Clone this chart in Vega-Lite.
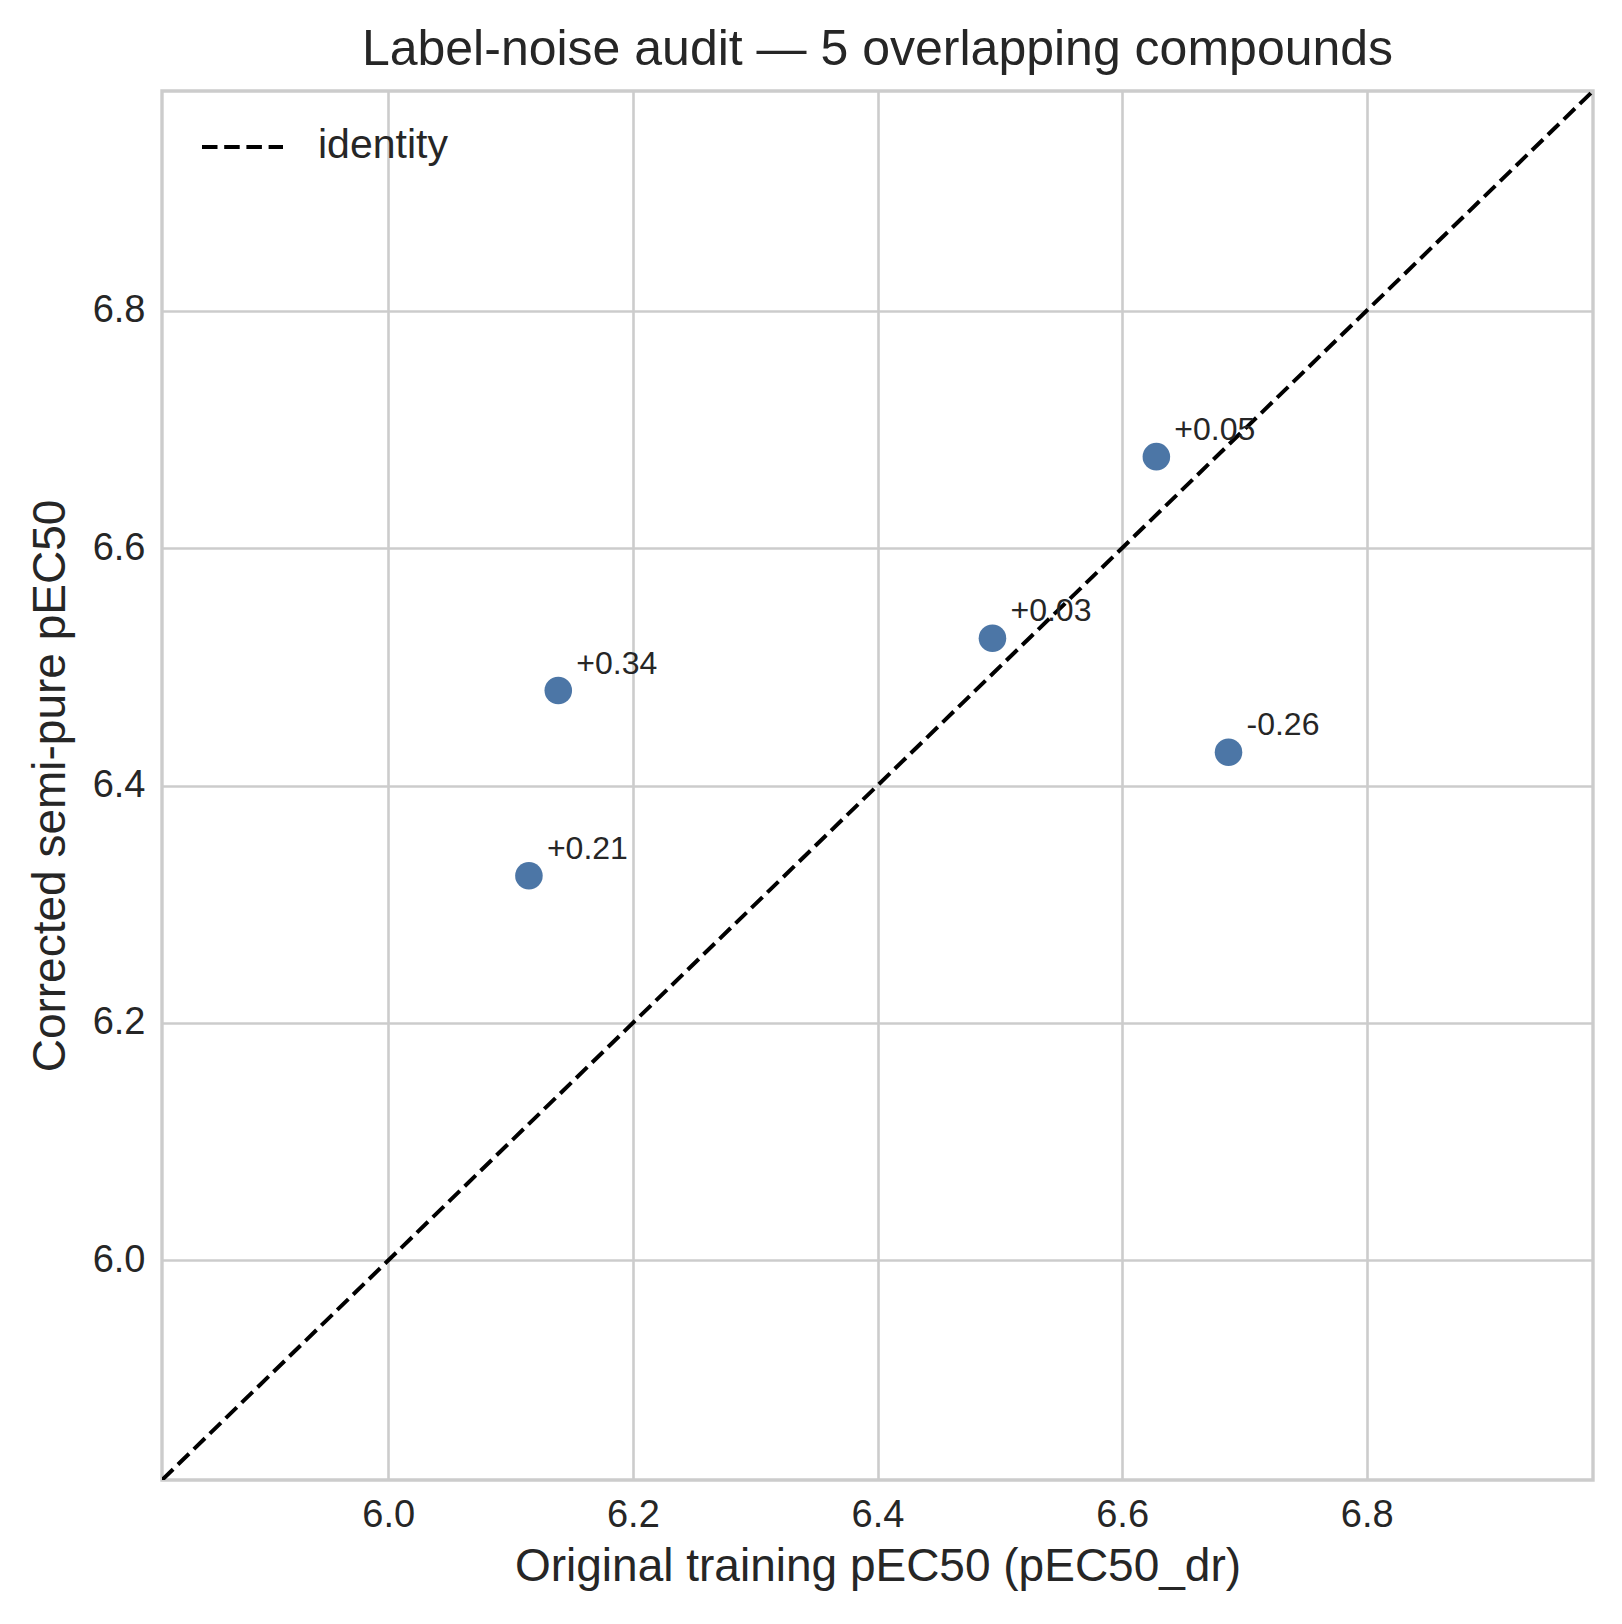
{
  "$schema": "https://vega.github.io/schema/vega-lite/v6.json",
  "width": 1431,
  "height": 1389,
  "autosize": {"type": "none"},
  "padding": {"left": 162, "top": 91, "right": 29, "bottom": 144},
  "background": "white",
  "title": {
    "text": "Label-noise audit — 5 overlapping compounds",
    "fontSize": 50,
    "font": "Liberation Sans",
    "fontWeight": "normal",
    "color": "#262626",
    "anchor": "middle",
    "frame": "group",
    "baseline": "alphabetic",
    "offset": -24
  },
  "config": {
    "view": {"stroke": "#cccccc", "strokeWidth": 3.4},
    "axis": {
      "labelFont": "Liberation Sans",
      "titleFont": "Liberation Sans",
      "labelColor": "#262626",
      "titleColor": "#262626",
      "titleFontWeight": "normal",
      "ticks": false,
      "domain": false,
      "grid": true,
      "gridColor": "#cccccc",
      "gridWidth": 2.6,
      "labelFlush": false
    }
  },
  "datasets": {
    "points": [
      {"orig": 6.139, "corr": 6.480, "label": "+0.34"},
      {"orig": 6.115, "corr": 6.324, "label": "+0.21"},
      {"orig": 6.494, "corr": 6.524, "label": "+0.03"},
      {"orig": 6.628, "corr": 6.677, "label": "+0.05"},
      {"orig": 6.687, "corr": 6.428, "label": "-0.26"}
    ],
    "identity": [
      {"orig": 5.815, "corr": 5.815, "series": "identity"},
      {"orig": 6.985, "corr": 6.985, "series": "identity"}
    ]
  },
  "layer": [
    {
      "data": {"name": "identity"},
      "mark": {"type": "line", "color": "black", "strokeWidth": 4, "clip": true},
      "encoding": {
        "x": {
          "field": "orig", "type": "quantitative",
          "scale": {"domain": [5.815, 6.985], "nice": false, "zero": false},
          "axis": {
            "values": [6.0, 6.2, 6.4, 6.6, 6.8], "format": ".1f",
            "title": "Original training pEC50 (pEC50_dr)",
            "labelFontSize": 38, "labelPadding": 46, "labelBaseline": "alphabetic",
            "titleFontSize": 46, "titleY": 100, "titleBaseline": "alphabetic"
          }
        },
        "y": {
          "field": "corr", "type": "quantitative",
          "scale": {"domain": [5.815, 6.985], "nice": false, "zero": false},
          "axis": {
            "values": [6.0, 6.2, 6.4, 6.6, 6.8], "format": ".1f",
            "title": "Corrected semi-pure pEC50",
            "labelFontSize": 38, "labelPadding": 17,
            "titleFontSize": 46, "titleX": -98, "titleBaseline": "alphabetic"
          }
        },
        "strokeDash": {
          "field": "series", "type": "nominal",
          "scale": {"domain": ["identity"], "range": [[15.5, 6.7]]},
          "legend": {
            "title": null, "orient": "none", "legendX": 38, "legendY": 13.5,
            "padding": 0, "symbolType": "stroke", "symbolSize": 6561,
            "symbolStrokeWidth": 4, "symbolStrokeColor": "black",
            "labelFontSize": 41, "labelFont": "Liberation Sans", "labelColor": "#262626",
            "labelOffset": 33, "labelLimit": 0,
            "labelBaseline": "alphabetic",
            "encode": {"labels": {"update": {"dy": {"value": 11}}}}
          }
        }
      }
    },
    {
      "data": {"name": "points"},
      "mark": {"type": "circle", "size": 760, "color": "#4c76a6", "opacity": 1},
      "encoding": {
        "x": {"field": "orig", "type": "quantitative"},
        "y": {"field": "corr", "type": "quantitative"}
      }
    },
    {
      "data": {"name": "points"},
      "mark": {"type": "text", "dx": 18, "dy": -17, "align": "left", "baseline": "alphabetic", "fontSize": 32, "font": "Liberation Sans", "color": "#262626"},
      "encoding": {
        "x": {"field": "orig", "type": "quantitative"},
        "y": {"field": "corr", "type": "quantitative"},
        "text": {"field": "label"}
      }
    }
  ]
}
